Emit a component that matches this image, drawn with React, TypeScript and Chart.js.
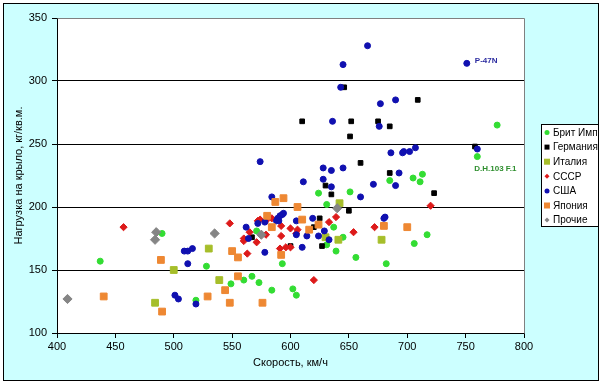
import React, { useEffect, useRef } from 'react';
import { Chart, registerables } from 'chart.js';

Chart.register(...registerables);

// ---- Data (speed km/h, wing loading kg/m²) ----
const seriesNames = ['Брит Имп', 'Германия', 'Италия', 'СССР', 'США', 'Япония', 'Прочие'];

const britSpeed = [437, 490, 528, 519, 549, 560, 567, 573, 584, 602, 605, 593, 571, 624, 651, 631, 637, 645, 631, 639, 656, 682, 717, 706, 685, 705, 713, 711, 777, 760];
const britLoad = [157, 179, 153, 126, 139, 142, 145, 140, 134, 135, 130, 155, 181, 211, 212, 202, 184, 176, 170, 165, 160, 155, 178, 171, 221, 223, 226, 220, 265, 240];

const gerSpeed = [646, 709, 610, 652, 675, 685, 651, 758, 660, 685, 630, 635, 723, 650, 625, 620, 627, 600, 567];
const gerLoad = [295, 285, 268, 268, 268, 264, 256, 248, 235, 227, 217, 210, 211, 197, 191, 184, 169, 169, 176];

const itaSpeed = [530, 500, 539, 484, 642, 630, 641, 678];
const itaLoad = [167, 150, 142, 124, 203, 176, 174, 174];

const ussrSpeed = [457, 548, 565, 560, 560, 563, 574, 572, 579, 584, 592, 600, 606, 605, 579, 571, 592, 591, 596, 600, 620, 639, 633, 672, 654, 720];
const ussrLoad = [184, 187, 180, 175, 173, 163, 190, 189, 189, 191, 185, 183, 182, 179, 178, 172, 177, 167, 168, 168, 142, 192, 188, 184, 180, 201];

const usaSpeed = [666, 645, 643, 677, 690, 636, 676, 707, 702, 697, 696, 686, 751, 760, 628, 635, 645, 693, 628, 635, 671, 690, 611, 660, 619, 681, 680, 629, 614, 624, 633, 610, 574, 584, 594, 593, 591, 589, 588, 590, 578, 562, 564, 572, 605, 578, 509, 512, 516, 512, 501, 504, 519, 605];
const usaLoad = [328, 313, 295, 282, 285, 268, 264, 247, 244, 244, 243, 243, 314, 246, 231, 229, 231, 227, 222, 216, 218, 217, 220, 208, 191, 192, 191, 181, 177, 177, 174, 168, 236, 208, 195, 194, 193, 191, 189, 189, 188, 184, 175, 187, 189, 164, 165, 165, 167, 155, 130, 127, 123, 178];

const japSpeed = [610, 624, 616, 680, 700, 587, 594, 606, 580, 584, 592, 550, 555, 489, 555, 544, 529, 548, 576, 490, 440];
const japLoad = [190, 186, 182, 185, 184, 204, 207, 200, 193, 184, 162, 165, 160, 158, 145, 134, 129, 124, 124, 117, 129];

const othSpeed = [409, 485, 484, 535, 575, 640];
const othLoad = [127, 180, 174, 179, 178, 199];

const xTicksMin = 400;
const xTicksMax = 800;
const xStep = 50;
const yTicksMin = 100;
const yTicksMax = 350;
const yStep = 50;

// annotations: [label, series index, point index]
const annotations: [string, number, number, string][] = [
  ['P-47N', 4, 12, '#2B2BA0'],
  ['D.H.103 F.1', 0, 29, '#2F8F2F'],
];

const FONT = '"Liberation Sans", Arial, sans-serif';

const styles = [
  { color: '#33DD33', style: 'circle', r: 3 },
  { color: '#000000', style: 'rect', r: 3.3 },
  { color: '#A6BE2A', style: 'rect', r: 4.8 },
  { color: '#DD1A1A', style: 'rectRot', r: 3.6 },
  { color: '#1010B0', style: 'circle', r: 3 },
  { color: '#EE8833', style: 'rect', r: 4.8 },
  { color: '#858585', style: 'rectRot', r: 4.6 },
];

const speeds = [britSpeed, gerSpeed, itaSpeed, ussrSpeed, usaSpeed, japSpeed, othSpeed];
const loads = [britLoad, gerLoad, itaLoad, ussrLoad, usaLoad, japLoad, othLoad];

function drawMarker(ctx: CanvasRenderingContext2D, style: string, x: number, y: number, size: number, color: string) {
  ctx.fillStyle = color;
  ctx.beginPath();
  if (style === 'circle') {
    ctx.arc(x, y, size / 2, 0, Math.PI * 2);
  } else if (style === 'rect') {
    ctx.rect(x - size / 2, y - size / 2, size, size);
  } else {
    ctx.moveTo(x, y - size / 2);
    ctx.lineTo(x + size / 2, y);
    ctx.lineTo(x, y + size / 2);
    ctx.lineTo(x - size / 2, y);
    ctx.closePath();
  }
  ctx.fill();
}

const framePlugin = {
  id: 'frame',
  beforeDraw(chart: any) {
    const { ctx, chartArea: a } = chart;
    ctx.save();
    ctx.fillStyle = '#ffffff';
    ctx.fillRect(0, 0, chart.width, chart.height);
    ctx.fillStyle = '#CCFFFF';
    ctx.fillRect(3, 3, 596, 378);
    ctx.strokeStyle = '#000000';
    ctx.lineWidth = 1;
    ctx.strokeRect(3.5, 3.5, 595, 377);
    ctx.fillStyle = '#ffffff';
    ctx.fillRect(a.left, a.top, a.right - a.left, a.bottom - a.top);
    ctx.restore();
  },
  beforeDatasetsDraw(chart: any) {
    const { ctx, chartArea: a } = chart;
    ctx.save();
    ctx.strokeStyle = '#808080';
    ctx.lineWidth = 1;
    ctx.beginPath();
    ctx.moveTo(Math.round(a.left) + 0.5, Math.round(a.top) + 0.5);
    ctx.lineTo(Math.round(a.right) + 0.5, Math.round(a.top) + 0.5);
    ctx.lineTo(Math.round(a.right) + 0.5, Math.round(a.bottom) + 0.5);
    ctx.stroke();
    ctx.restore();
  },
  afterDraw(chart: any) {
    const { ctx } = chart;
    const xs = chart.scales.x;
    const ys = chart.scales.y;
    ctx.save();
    // annotations
    ctx.font = `bold 8px ${FONT}`;
    ctx.textBaseline = 'middle';
    ctx.textAlign = 'left';
    annotations.forEach(([label, si, pi, color], k) => {
      const px = xs.getPixelForValue(speeds[si][pi]);
      const py = ys.getPixelForValue(loads[si][pi]);
      ctx.fillStyle = color;
      if (k === 0) ctx.fillText(label, px + 8, py - 3);
      else ctx.fillText(label, px - 3, py + 12);
    });
    // legend
    const lx = 541, ly = 124, lw = 57, lh = 102;
    ctx.fillStyle = '#ffffff';
    ctx.fillRect(lx, ly, lw, lh);
    ctx.strokeStyle = '#000000';
    ctx.lineWidth = 1;
    ctx.strokeRect(lx + 0.5, ly + 0.5, lw, lh);
    ctx.font = `10px ${FONT}`;
    ctx.textBaseline = 'middle';
    seriesNames.forEach((name, i) => {
      const y = ly + 8.5 + i * 14.6;
      const st = styles[i];
      drawMarker(ctx, st.style, lx + 6, y, st.style === 'rect' && i !== 1 ? 6 : 5, st.color);
      ctx.fillStyle = '#000000';
      ctx.fillText(name, lx + 12, y + 0.5);
    });
    ctx.restore();
  },
};

export default function App() {
  const ref = useRef<HTMLCanvasElement>(null);
  useEffect(() => {
    document.body.style.margin = '0';
    const canvas = ref.current;
    if (!canvas) return;
    const datasets = seriesNames.map((name, i) => ({
      label: name,
      data: speeds[i].map((s, j) => ({ x: s, y: loads[i][j] })),
      pointStyle: styles[i].style as any,
      pointRadius: styles[i].r,
      pointHoverRadius: styles[i].r,
      backgroundColor: styles[i].color,
      borderColor: styles[i].color,
      borderWidth: 1,
      order: seriesNames.length - i,
    }));
    const chart = new Chart(canvas, {
      type: 'scatter',
      data: { datasets },
      options: {
        responsive: false,
        animation: false,
        devicePixelRatio: 1,
        layout: { padding: { left: 3, right: 82, top: 18, bottom: 4 } },
        plugins: {
          legend: { display: false },
          tooltip: { enabled: false },
        },
        scales: {
          x: {
            type: 'linear',
            min: xTicksMin,
            max: xTicksMax,
            afterFit: (s: any) => { s.height = 48; },
            ticks: { stepSize: xStep, color: '#000', padding: 2, font: { family: FONT, size: 11 } },
            grid: { drawOnChartArea: false, drawTicks: true, tickLength: 5, tickColor: '#000', color: '#000' },
            border: { color: '#000', width: 1 },
            title: {
              display: true,
              text: 'Скорость, км/ч',
              color: '#000',
              font: { family: FONT, size: 11 },
              padding: { top: 4, bottom: 11 },
            },
          },
          y: {
            type: 'linear',
            min: yTicksMin,
            max: yTicksMax,
            afterFit: (s: any) => { s.width = 54; },
            ticks: { stepSize: yStep, color: '#000', padding: 5, font: { family: FONT, size: 11 } },
            grid: {
              drawTicks: true,
              tickLength: 5,
              tickColor: '#000',
              color: (c: any) => (c.tick && c.tick.value === yTicksMax ? '#808080' : '#000'),
              lineWidth: 1,
            },
            border: { color: '#000', width: 1 },
            title: {
              display: true,
              text: 'Нагрузка на крыло, кг/кв.м.',
              color: '#000',
              font: { family: FONT, size: 11 },
              padding: { top: 9, bottom: 0 },
            },
          },
        },
      },
      plugins: [framePlugin],
    });
    return () => chart.destroy();
  }, []);
  return (
    <div style={{ position: 'fixed', left: 0, top: 0, width: 606, height: 385 }}>
      <canvas ref={ref} width={606} height={385} style={{ display: 'block', width: 606, height: 385 }} />
    </div>
  );
}
